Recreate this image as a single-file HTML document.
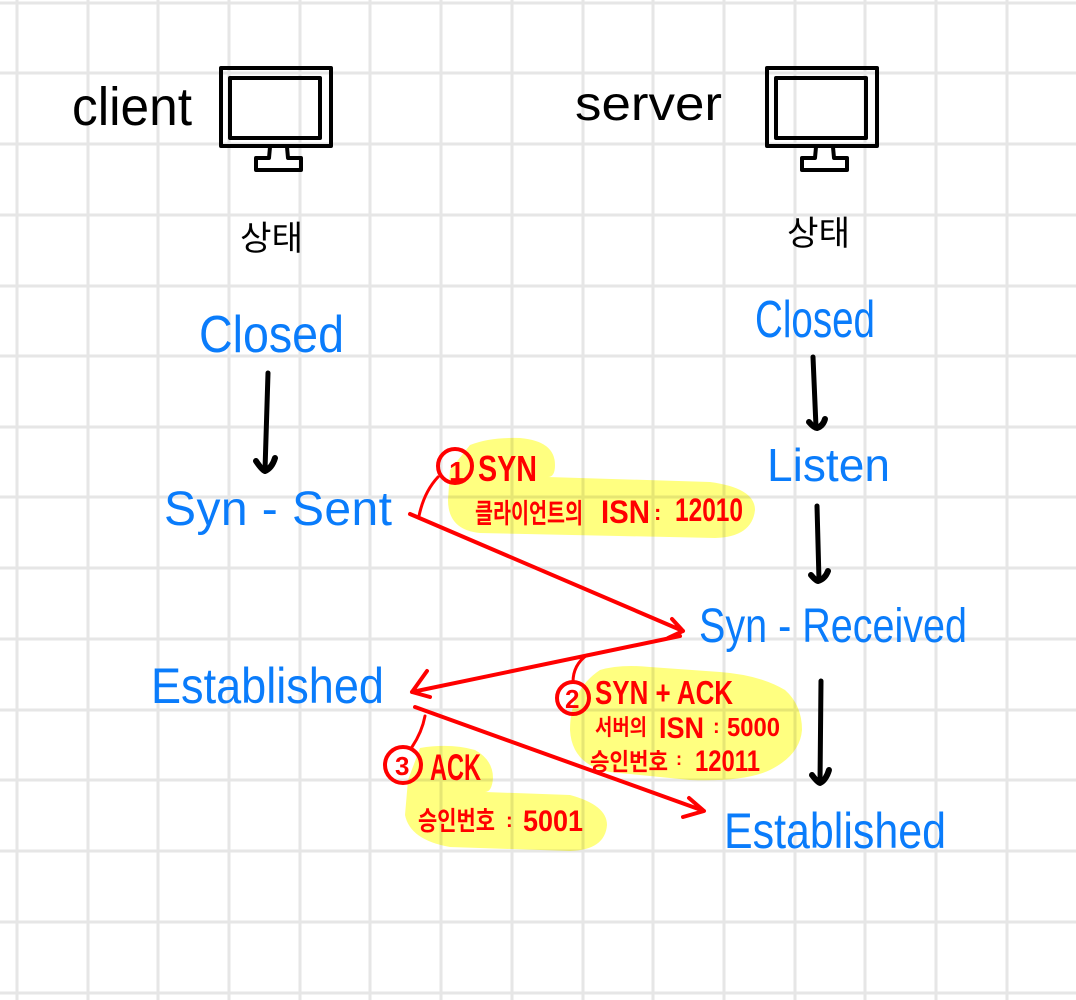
<!DOCTYPE html>
<html lang="ko"><head><meta charset="utf-8"><style>
html,body{margin:0;padding:0;background:#fff}
svg{display:block}
text{font-family:"Liberation Sans","Noto Sans CJK KR","NanumGothic",sans-serif}
.b{fill:#0a7cfb;font-size:52px}
.k{fill:#000}
.r{fill:#f00;font-weight:bold}
.a{fill:none;stroke:#000;stroke-width:5;stroke-linecap:round;stroke-linejoin:round}
.m{fill:none;stroke:#000;stroke-width:4;stroke-linejoin:round}
.l{fill:none;stroke:#f00;stroke-width:4;stroke-linecap:round;stroke-linejoin:round}
.c{fill:none;stroke:#f00;stroke-width:4}
.y{fill:#ffff80;mix-blend-mode:multiply}
</style></head><body>
<svg width="1076" height="1000" viewBox="0 0 1076 1000" xmlns="http://www.w3.org/2000/svg">
<rect width="1076" height="1000" fill="#fff"/>
<g stroke="#e6e6e6" stroke-width="3">
<path d="M17 0V1000M88 0V1000M158 0V1000M229 0V1000M300 0V1000M370 0V1000M441 0V1000M512 0V1000M583 0V1000M653 0V1000M724 0V1000M795 0V1000M865 0V1000M936 0V1000M1007 0V1000"/>
<path d="M0 3H1076M0 73H1076M0 144H1076M0 215H1076M0 286H1076M0 356H1076M0 427H1076M0 497H1076M0 568H1076M0 639H1076M0 710H1076M0 780H1076M0 851H1076M0 922H1076M0 993H1076"/>
</g>

<!-- highlights -->
<path class="y" d="M470 445Q490 437 520 438Q555 441 555 465Q555 477 548 477L710 482Q755 488 755 510Q752 537 715 538L480 533Q448 530 448 500L450 470Z"/>
<path class="y" d="M600 670Q620 664 650 667L720 672Q760 675 785 690Q802 705 802 730Q800 755 770 770Q745 782 690 780L610 772Q572 765 570 730Q570 690 600 670Z"/>
<path class="y" d="M420 748Q450 743 475 750Q493 760 493 778Q492 792 485 792L570 795Q607 805 607 825Q605 850 570 851L450 847Q410 840 405 815L408 780Z"/>

<!-- monitors -->
<g class="m">
<rect x="221" y="68" width="110" height="78"/>
<rect x="230" y="78" width="90" height="60"/>
<path d="M270 147L269 158H256V170H301V158H288L287 147"/>
</g>
<g class="m" transform="translate(546 0)">
<rect x="221" y="68" width="110" height="78"/>
<rect x="230" y="78" width="90" height="60"/>
<path d="M270 147L269 158H256V170H301V158H288L287 147"/>
</g>

<!-- black labels -->
<text class="k" x="72" y="125" font-size="54" textLength="120" lengthAdjust="spacingAndGlyphs">client</text>
<text class="k" x="575" y="120" font-size="48" textLength="147" lengthAdjust="spacingAndGlyphs">server</text>
<text class="k" x="240" y="250" font-size="34" textLength="63" lengthAdjust="spacingAndGlyphs">상태</text>
<text class="k" x="787" y="245" font-size="34" textLength="63" lengthAdjust="spacingAndGlyphs">상태</text>

<!-- blue states -->
<text class="b" x="199" y="352" textLength="145" lengthAdjust="spacingAndGlyphs">Closed</text>
<text class="b" x="755" y="337" textLength="120" lengthAdjust="spacingAndGlyphs">Closed</text>
<text class="b" x="767" y="481" style="font-size:46px" textLength="123" lengthAdjust="spacingAndGlyphs">Listen</text>
<text class="b" x="164" y="525" style="font-size:48px" textLength="228" lengthAdjust="spacing">Syn - Sent</text>
<text class="b" x="699" y="642" style="font-size:48px" textLength="268" lengthAdjust="spacingAndGlyphs">Syn - Received</text>
<text class="b" x="151" y="703" style="font-size:50px" textLength="233" lengthAdjust="spacingAndGlyphs">Established</text>
<text class="b" x="724" y="848" style="font-size:50px" textLength="222" lengthAdjust="spacingAndGlyphs">Established</text>

<!-- black arrows -->
<path class="a" d="M268 373L265 470"/>
<path class="a" style="stroke-width:6" d="M256 461Q262 470 265 471Q272 468 275 458"/>
<path class="a" d="M813 357L816 427"/>
<path class="a" style="stroke-width:6" d="M809 422Q814 428 817 428Q823 426 825 419"/>
<path class="a" d="M817 506L819 580"/>
<path class="a" style="stroke-width:6" d="M811 575Q816 581 818 581Q825 579 828 571"/>
<path class="a" d="M821 681L820 783"/>
<path class="a" style="stroke-width:6" d="M812 775Q818 783 820 783Q826 780 829 770"/>

<!-- red arrows -->
<path class="l" d="M410 514L683 631M672 619L683 631L668 638"/>
<path class="l" d="M680 636L412 692M427 671L412 692L430 697"/>
<path class="l" d="M415 707L704 811M689 798L704 811L683 817"/>
<path class="l" style="stroke-width:3" d="M419 516Q424 492 438 477"/>
<path class="l" style="stroke-width:3" d="M587 655Q573 665 573 682"/>
<path class="l" style="stroke-width:3" d="M425 716Q422 732 412 747"/>

<circle class="c" cx="455" cy="466" r="17"/>
<circle class="c" cx="573" cy="698" r="16"/>
<circle class="c" cx="403" cy="765" r="18"/>
<text class="r" x="449" y="481" font-size="28">1</text>
<text class="r" x="565" y="708" font-size="26">2</text>
<text class="r" x="395" y="775" font-size="26">3</text>

<!-- red text -->
<text class="r" x="478" y="481" font-size="36" textLength="59" lengthAdjust="spacingAndGlyphs">SYN</text>
<text class="r" x="475" y="523" font-size="27" textLength="108" lengthAdjust="spacingAndGlyphs">클라이언트의</text>
<text class="r" x="601" y="523" font-size="32" textLength="49" lengthAdjust="spacingAndGlyphs">ISN</text>
<text class="r" x="654" y="520" font-size="22">:</text>
<text class="r" x="675" y="521" font-size="32" textLength="68" lengthAdjust="spacingAndGlyphs">12010</text>

<text class="r" x="595" y="704" font-size="33" textLength="138" lengthAdjust="spacingAndGlyphs">SYN + ACK</text>
<text class="r" x="595" y="735" font-size="22" textLength="52" lengthAdjust="spacingAndGlyphs">서버의</text>
<text class="r" x="659" y="738" font-size="30" textLength="45" lengthAdjust="spacingAndGlyphs">ISN</text>
<text class="r" x="713" y="733" font-size="20">:</text>
<text class="r" x="727" y="736" font-size="26" textLength="53" lengthAdjust="spacingAndGlyphs">5000</text>
<text class="r" x="590" y="770" font-size="24" textLength="78" lengthAdjust="spacingAndGlyphs">승인번호</text>
<text class="r" x="676" y="765" font-size="18">:</text>
<text class="r" x="695" y="771" font-size="30" textLength="65" lengthAdjust="spacingAndGlyphs">12011</text>

<text class="r" x="430" y="780" font-size="37" textLength="51" lengthAdjust="spacingAndGlyphs">ACK</text>
<text class="r" x="418" y="830" font-size="26" textLength="77" lengthAdjust="spacingAndGlyphs">승인번호</text>
<text class="r" x="506" y="827" font-size="20">:</text>
<text class="r" x="523" y="831" font-size="30" textLength="60" lengthAdjust="spacingAndGlyphs">5001</text>
</svg>
</body></html>
